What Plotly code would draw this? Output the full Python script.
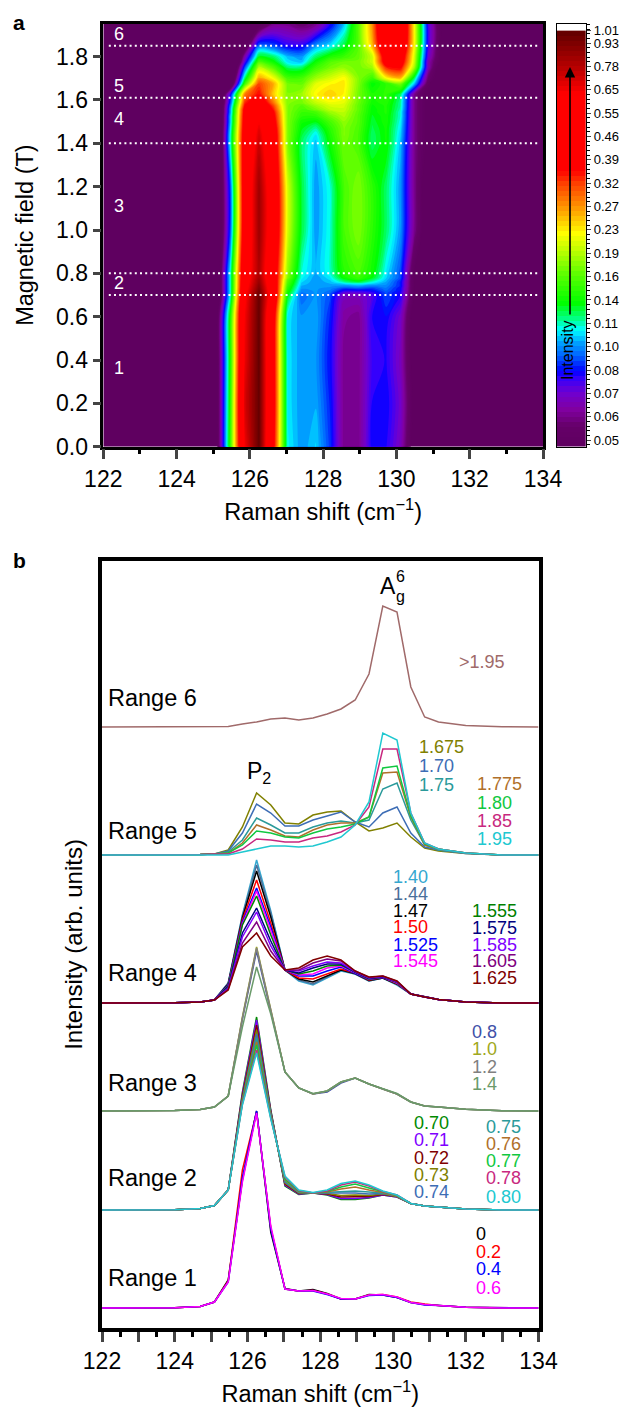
import numpy as np
import plotly.graph_objects as go

# Raman shift grid (cm-1)
RAMAN = [122, 123, 124, 124.7, 125.09, 125.47, 125.86, 126.25, 126.64, 127.03, 127.41, 127.8,
         128.19, 128.57, 128.96, 129.34, 129.72, 130.11, 130.49, 130.87, 131.25, 132, 133, 134]

# Range 1
R1_00 = [0, 0, .3, 1.5, 6, 28, 128, 197, 76, 19.5, 17, 18.5, 14.5, 9, 9, 13.5, 13, 10.5, 5.5, 3.5, 2.5, .7, 0, 0]
R1_02 = [0, 0, .3, 1.5, 6, 27, 138, 196, 80, 19, 17, 17.5, 14, 9, 9, 13, 13.5, 11, 6, 4, 2.5, .7, 0, 0]
R1_04 = [0, 0, .3, 1.5, 6, 26, 130, 197, 79, 19, 17, 17, 13.5, 9, 9, 12.5, 13, 10.5, 5.5, 3, 2.5, .7, 0, 0]
R1_06 = [0, 0, .3, 1.5, 6, 26, 126, 195, 82, 19, 17, 17.5, 14, 9.5, 9, 13, 13.5, 11, 5.5, 3.5, 2.5, .7, 0, 0]
# Range 2
R2_070 = [0, 0, .3, 1.5, 4.5, 20, 118, 193, 100, 24, 15.5, 17, 15, 10.5, 10.5, 12, 15, 13, 6.5, 4, 3, 1, 0, 0]
R2_071 = [0, 0, .3, 1.5, 4.5, 20, 116, 190, 99, 25, 16, 17, 15.5, 11.5, 11.5, 12.5, 15, 13, 6.5, 4, 3, 1, 0, 0]
R2_072 = [0, 0, .3, 1.5, 4.5, 20, 114, 185, 98, 26, 16.5, 17, 16, 13, 13, 13.5, 15.5, 13.5, 6.5, 4, 3, 1, 0, 0]
R2_073 = [0, 0, .3, 1.5, 4.5, 20, 112, 180, 97, 27, 17, 17, 16.5, 14.5, 15, 14.5, 16, 13.5, 6.5, 4, 3, 1, 0, 0]
R2_074 = [0, 0, .3, 1.5, 4.5, 20, 110, 176, 96, 28, 17.5, 17, 17, 16.5, 17, 16, 16.5, 14, 6.5, 4, 3, 1, 0, 0]
R2_075 = [0, 0, .3, 1.5, 4.5, 20, 109, 172, 95, 29, 18, 17, 17.5, 18, 19, 18, 17, 14, 6.5, 4, 3, 1, 0, 0]
R2_076 = [0, 0, .3, 1.5, 4.5, 20, 108, 168, 94, 30, 18.5, 17, 18, 21, 23, 20, 17.5, 14, 6.5, 4, 3, 1, 0, 0]
R2_077 = [0, 0, .3, 1.5, 4.5, 20, 107, 165, 93, 31, 19, 17, 18.5, 23, 26, 22, 18, 14.5, 6.5, 4, 3, 1, 0, 0]
R2_078 = [0, 0, .3, 1.5, 4.5, 20, 106, 160, 92, 33, 19.5, 17, 19, 25, 28, 24, 18.5, 15, 6.5, 4, 3, 1, 0, 0]
R2_080 = [0, 0, .3, 1.5, 4.5, 20, 105, 157, 91, 34, 20, 17.5, 20, 26.5, 29, 25, 19, 15, 6.5, 4, 3, 1, 0, 0]
# Range 3
R3_08 = [0, .2, .5, 1.5, 4, 15, 92, 160, 100, 39, 23, 17, 19, 28, 33, 27, 22, 17, 9, 5, 4, 1.7, .3, 0]
R3_10 = [0, .2, .5, 1.5, 4, 15, 94, 164, 101, 39, 23, 17, 20, 29, 33, 27, 22, 17, 9, 5, 4, 1.7, .3, 0]
R3_12 = [0, .2, .5, 1.5, 4, 15, 93, 163, 100, 39, 23, 17, 20, 29, 33, 27, 22, 17, 9, 5, 4, 1.7, .3, 0]
R3_14 = [0, .2, .5, 1.5, 4, 15, 84, 144, 97, 39, 23, 17.5, 20, 29, 33, 27, 22, 17.5, 9, 5, 4, 1.7, .3, 0]
# Range 4
R4_140 = [0, 0, .3, 1, 3, 20, 88, 143, 92, 33, 22, 18, 25, 32, 29, 22, 25, 18, 9, 6, 3.5, 1, 0, 0]
R4_144 = [0, 0, .3, 1, 3, 20, 87, 138, 90, 33, 23, 19, 26, 33, 29, 22, 25, 18.5, 9, 6, 3.5, 1, 0, 0]
R4_147 = [0, 0, .3, 1, 3, 19, 85, 132, 86, 33, 24, 21, 27, 33, 29.5, 22.5, 25, 19, 9, 6, 3.5, 1, 0, 0]
R4_150 = [0, 0, .3, 1, 3, 18, 83, 123, 80, 33, 25, 24, 29, 34, 30, 23, 25.5, 19.5, 9, 6, 3.5, 1, 0, 0]
R4_1525 = [0, 0, .3, 1, 3, 18, 81, 115, 76, 33, 27, 27, 32, 36, 30, 23.5, 25.5, 20, 9, 6, 3.5, 1, 0, 0]
R4_1545 = [0, 0, .3, 1, 3, 17, 79, 112, 72, 33, 28, 29, 35, 37, 30.5, 24, 26, 20, 9, 6, 3.5, 1, 0, 0]
R4_1555 = [0, 0, .3, 1, 3, 17, 78, 107, 68, 33, 29, 32, 37, 38, 31, 24, 26, 20.5, 9, 6, 3.5, 1, 0, 0]
R4_1575 = [0, 0, .3, 1, 3, 16, 70, 95, 62, 33, 30, 35, 39, 39, 31, 24.5, 26, 21, 9, 6, 3.5, 1, 0, 0]
R4_1585 = [0, 0, .3, 1, 3, 15, 66, 91, 57, 33, 32, 37, 41, 40, 31.5, 25, 26.5, 21, 9, 6, 3.5, 1, 0, 0]
R4_1605 = [0, 0, .3, 1, 3, 14, 60, 81, 52, 33, 33, 40, 44, 42, 32, 25.5, 27, 21.5, 9, 6, 3.5, 1, 0, 0]
R4_1625 = [0, 0, .3, 1, 3, 13, 56, 70, 47, 33, 35, 43, 47, 43, 32, 26, 27, 22, 9, 6, 3.5, 1, 0, 0]
# Range 5
R5_1675 = [0, 0, 0, .5, 1, 5, 28, 62, 50, 32, 31, 40, 43, 44, 33, 24, 27, 32, 18, 7, 4, 1.5, 0, 0]
R5_170 = [0, 0, 0, .5, 1, 4, 22, 51, 42, 29, 29, 35, 39, 43, 33, 28, 42, 48, 22, 8, 5, 1.5, 0, 0]
R5_175 = [0, 0, 0, .5, 1, 3, 15, 37, 30, 22, 22, 28, 32, 34, 32, 35, 66, 72, 35, 10, 5, 2, 0, 0]
R5_1775 = [0, 0, 0, .5, 1, 2, 12, 30, 25, 19, 18, 25, 30, 32, 32, 38, 82, 83, 38, 10, 6, 2, 0, 0]
R5_180 = [0, 0, 0, .5, 1, 2, 10, 24, 22, 18, 17, 22, 26, 28, 31, 38, 87, 89, 39, 11, 6, 2, 0, 0]
R5_185 = [0, 0, 0, .5, 1, 1, 6, 16, 15, 13, 13, 17, 19, 23, 30, 48, 106, 106, 42, 12, 6, 2, 0, 0]
R5_195 = [0, 0, 0, .5, .5, 0, 3, 6, 9, 9, 8, 9, 13, 18, 30, 53, 122, 115, 42, 12, 6, 2, 0, 0]
# Range 6
R6_200 = [0, 0, 0, .2, .3, .5, 3, 5, 8, 9, 7, 9, 13, 18, 27, 53, 121, 115, 40, 10, 5, 1.5, .3, 0]

F1 = ["0", "0.2", "0.4", "0.6"]
F2 = ["0.70", "0.71", "0.72", "0.73", "0.74", "0.75", "0.76", "0.77", "0.78", "0.80"]
F3 = ["0.8", "1.0", "1.2", "1.4"]
F4 = ["1.40", "1.44", "1.47", "1.50", "1.525", "1.545", "1.555", "1.575", "1.585", "1.605", "1.625"]
F5 = ["1.675", "1.70", "1.75", "1.775", "1.80", "1.85", "1.95"]
F6 = [">1.95"]

C1 = ["#000000", "#ff0000", "#0000ff", "#ff00ff"]
C2 = ["#008a00", "#7f00ff", "#800000", "#808000", "#3d6db5", "#2a9a9a", "#b0702a", "#10c840", "#c8287f", "#20c8d0"]
C3 = ["#4050a8", "#a0a820", "#808080", "#6a9a6a"]
C4 = ["#35a8d0", "#4a6f9a", "#000000", "#ff0000", "#0000ff", "#ff00ff", "#008000", "#000080", "#8000ff", "#800080", "#800000"]
C5 = ["#808000", "#3d6db5", "#2a9a9a", "#b0702a", "#10c840", "#c8287f", "#20c8d0"]
C6 = ["#a06a6a"]

S1 = [R1_00, R1_02, R1_04, R1_06]
S2 = [R2_070, R2_071, R2_072, R2_073, R2_074, R2_075, R2_076, R2_077, R2_078, R2_080]
S3 = [R3_08, R3_10, R3_12, R3_14]
S4 = [R4_140, R4_144, R4_147, R4_150, R4_1525, R4_1545, R4_1555, R4_1575, R4_1585, R4_1605, R4_1625]
S5 = [R5_1675, R5_170, R5_175, R5_1775, R5_180, R5_185, R5_195]
S6 = [R6_200]

RANGE_OFFSET = [20, 118, 217, 325, 473, 601]
BOUNDARIES = [0.70, 0.80, 1.40, 1.61, 1.85]
CBAR_TEXT = ["0.05", "0.06", "0.07", "0.08", "0.10", "0.11", "0.14", "0.16", "0.19", "0.23", "0.27", "0.32",
             "0.39", "0.46", "0.55", "0.65", "0.78", "0.93"]
CBAR_RATIO = 1.187

W, H = 621, 1407
FONT = "Liberation Sans"

def dom_x(a, b): return [a / W, b / W]
def dom_y(top, bot): return [1 - bot / H, 1 - top / H]

# ---- map: all scans ordered by field
fields = [0, .2, .4, .6, .70, .71, .72, .73, .74, .75, .76, .77, .78, .80, 1.0, 1.2, 1.40, 1.44, 1.47, 1.50,
          1.525, 1.545, 1.555, 1.575, 1.585, 1.605, 1.625, 1.675, 1.70, 1.75, 1.775, 1.80, 1.85, 1.95, 2.0]
scans = S1 + S2 + [R3_10, R3_12] + S4 + S5 + S6
I = 0.015 + np.array(scans, dtype=float) / 200.0
logI = np.log10(I)

cmin, cmax = np.log10(0.0476), np.log10(1.01)
stops = [(0, "#5f0060"), (.05, "#650068"), (.09, "#8000a0"), (.13, "#7000d0"), (.165, "#3000ff"), (.18, "#0000ff"),
         (.216, "#0060ff"), (.248, "#00a0ff"), (.28, "#00ffff"), (.304, "#00ff90"), (.344, "#00ff00"),
         (.416, "#60ff00"), (.472, "#c0ff00"), (.512, "#ffff00"), (.568, "#ffa000"), (.632, "#ff4000"),
         (.664, "#ff0000"), (.848, "#ff0000"), (.904, "#c00000"), (1, "#600000")]
NB = 83

fig = go.Figure()
fig.add_trace(go.Contour(x=RAMAN, y=fields, z=logI.tolist(), colorscale=stops, zmin=cmin, zmax=cmax, showscale=False,
                         autocontour=False, contours=dict(start=cmin, end=cmax, size=(cmax - cmin) / NB, coloring="fill", showlines=False),
                         line=dict(width=0), xaxis="x", yaxis="y", hoverinfo="skip"))
for b in BOUNDARIES:
    fig.add_trace(go.Scatter(x=[122.15, 133.85], y=[b, b], mode="lines", xaxis="x", yaxis="y", showlegend=False,
                             line=dict(color="white", width=2, dash="2px,3.2px")))

# ---- colour bar drawn as its own axes so it can carry minor ticks
edges = np.linspace(cmin, cmax, NB + 1)
mids = (edges[:-1] + edges[1:]) / 2
fig.add_trace(go.Heatmap(x=[0, 1], y=edges.tolist(), z=[[m] for m in mids], colorscale=stops, zmin=cmin, zmax=cmax,
                         showscale=False, xaxis="x3", yaxis="y3", hoverinfo="skip", xgap=0, ygap=0))

# ---- stacked spectra
groups = [(S1, F1, C1), (S2, F2, C2), (S3, F3, C3), (S4, F4, C4), (S5, F5, C5), (S6, F6, C6)]
for off, (ss, ff, cc) in zip(RANGE_OFFSET, groups):
    for s, f, c in zip(ss, ff, cc):
        fig.add_trace(go.Scatter(x=RAMAN, y=[off + v for v in s], mode="lines", name=f, showlegend=False,
                                 xaxis="x2", yaxis="y2", line=dict(color=c, width=1.5)))

ann = []
def txt(px, py, t, size, color="black", anchor="left", angle=0, bold=False):
    ann.append(dict(x=px / W, y=1 - py / H, xref="paper", yref="paper", text=f"<b>{t}</b>" if bold else t, showarrow=False,
                    xanchor=anchor, yanchor="middle", textangle=angle, borderpad=0, borderwidth=0,
                    font=dict(size=size, color=color, family=FONT)))

txt(13, 22, "a", 21, bold=True)
txt(13, 560, "b", 21, bold=True)
for py, t in [(34, "6"), (86, "5"), (119, "4"), (206, "3"), (283, "2"), (368, "1")]:
    txt(119, py, t, 18, color="white", anchor="center")

for py, t in [(698, "Range 6"), (831, "Range 5"), (973, "Range 4"), (1083, "Range 3"), (1178, "Range 2"), (1278, "Range 1")]:
    txt(108, py, t, 23.5)
txt(247, 772, "P<sub>2</sub>", 23)
txt(380, 586, "A", 23)
txt(396, 597, "g", 16)
txt(396, 576, "6", 16)

def col(names, left, ys, colors):
    for n, y, c in zip(names, ys, colors):
        txt(left, y, n, 18, color=c)
col(F6, 459, [662], C6)
col(F5[:3], 419, [747, 766, 785], C5[:3])
col(F5[3:], 477, [784, 803, 821, 839], C5[3:])
col(F4[:6], 393, [877, 894, 911, 927, 945, 961], C4[:6])
col(F4[6:], 472, [911, 928, 945, 961, 978], C4[6:])
col(F3, 472, [1032, 1049, 1067, 1084], C3)
col(F2[:5], 414, [1123, 1140, 1158, 1175, 1192], C2[:5])
col(F2[5:], 486, [1127, 1144, 1161, 1178, 1197], C2[5:])
col(F1, 476, [1234, 1252, 1269, 1288], C1)

# Arrow and label inside colour bar
ann.append(dict(x=570 / W, y=1 - 67 / H, ax=0, ay=249, xref="paper", yref="paper", axref="pixel", ayref="pixel",
                text="", showarrow=True, arrowhead=2, arrowsize=1.3, arrowwidth=1.6, arrowcolor="black"))
txt(568, 350, "Intensity", 16, anchor="center", angle=-90)

levels = [0.05 * CBAR_RATIO ** k for k in range(18)]
tickv = [float(np.log10(v)) for v in levels] + [float(np.log10(1.01))]
tickt = CBAR_TEXT + ["1.01"]
step = np.log10(CBAR_RATIO)
minor_v = [float(np.log10(0.05) + step * k / 5) for k in range(-1, 18 * 5 + 1)]

tf = dict(family=FONT, size=23, color="black")
tit = dict(family=FONT, size=23.5, color="black")
common = dict(showline=True, linecolor="black", mirror=True, ticks="outside", showgrid=False, zeroline=False, automargin=False)
fig.update_layout(
    width=W, height=H, margin=dict(l=0, r=0, t=0, b=0, autoexpand=False), paper_bgcolor="white", plot_bgcolor="white", showlegend=False,
    font=dict(family=FONT, color="black"), annotations=ann,
    xaxis=dict(domain=dom_x(103.3, 543), range=[122, 134], anchor="y", linewidth=2.5, tickwidth=2.5, ticklen=10, tickvals=list(range(122, 135, 2)),
               tickfont=tf, title=dict(text="Raman shift (cm<sup>−1</sup>)", font=tit, standoff=13),
               minor=dict(tickvals=list(range(123, 134, 2)), ticks="outside", ticklen=5, tickwidth=2.5, tickcolor="black", showgrid=False), **common),
    yaxis=dict(domain=dom_y(23.5, 446.7), range=[0, 1.953], anchor="x", linewidth=2.5, tickwidth=2.5, ticklen=8,
               tickvals=[round(.2 * k, 1) for k in range(10)], ticktext=[f"{.2*k:.1f}" for k in range(10)], tickfont=tf,
               title=dict(text="Magnetic field (T)", font=tit, standoff=16), **common),
    xaxis2=dict(domain=dom_x(102, 538.5), range=[122, 134], anchor="y2", linewidth=3.5, tickwidth=3, ticklen=10,
                tickmode="linear", tick0=122, dtick=1, ticklabelstep=2, tickfont=tf,
                title=dict(text="Raman shift (cm<sup>−1</sup>)", font=tit, standoff=13),
                minor=dict(tickvals=[122.5 + k for k in range(12)], ticks="outside", ticklen=5, tickwidth=3, tickcolor="black", showgrid=False), **common),
    yaxis2=dict(domain=dom_y(561, 1328), range=[0, 767], anchor="x2", linewidth=3.5, showline=True, linecolor="black", mirror=True, ticks="",
                showticklabels=False, showgrid=False, zeroline=False, automargin=False, title=dict(text="Intensity (arb. units)", font=dict(family=FONT, size=24, color="black"), standoff=10)),
    xaxis3=dict(domain=dom_x(556.7, 586), range=[0, 1], anchor="y3", showline=True, linewidth=1.2, linecolor="black", mirror=True, ticks="",
                showticklabels=False, showgrid=False, zeroline=False),
    yaxis3=dict(domain=dom_y(24, 446.7), range=[-1.322, 0.0255], anchor="x3", side="right", showline=True, linewidth=1.2, linecolor="black", mirror=True,
                ticks="outside", ticklen=4, tickwidth=1, tickvals=tickv, ticktext=tickt, tickfont=dict(family=FONT, size=13, color="black"), automargin=False,
                showgrid=False, zeroline=False, minor=dict(tickvals=minor_v, ticks="outside", ticklen=2.5, tickwidth=.8, tickcolor="black", showgrid=False)),
)
fig.write_html("out.html", post_script="document.body.style.margin='0';", config={"displayModeBar": False})
